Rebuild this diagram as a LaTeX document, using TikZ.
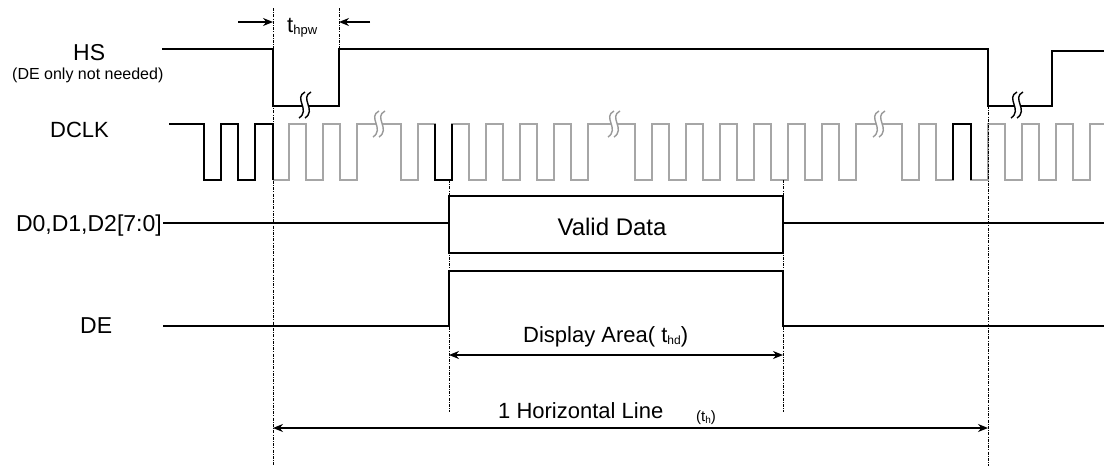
\documentclass[tikz,border=0pt]{standalone}
\usepackage{fontspec}
\setmainfont{Liberation Sans}
\usetikzlibrary{arrows.meta}
\newcommand{\sbs}[2][12]{\raisebox{-2pt}{\fontsize{#1}{#1}\selectfont #2}}

\begin{document}
\begin{tikzpicture}[x=1pt,y=-1pt,>={Stealth[length=10pt,width=8pt]},
  sig/.style={line width=1.6pt,black},
  clk/.style={line width=1.5pt,gray!70},
  guide/.style={line width=0.9pt,dash pattern=on 3pt off 1.2pt on 1pt off 1.2pt},
  dim/.style={line width=1.4pt},
  lbl/.style={font=\fontsize{23}{26}\selectfont,inner sep=0pt,anchor=base west},
  brk/.pic={
    \fill[white] (0,-13) .. controls (-12,-7) and (6,5) .. (-6,13) -- (0,13) .. controls (12,5) and (-6,-7) .. (6,-13) -- cycle;
    \draw[line width=1.4pt] (0,-13) .. controls (-12,-7) and (6,5) .. (-6,13);
    \draw[line width=1.4pt] (6,-13) .. controls (-6,-7) and (12,5) .. (0,13);
  }]
\useasboundingbox (0,0) rectangle (1104,466);

% signal names
  \node[lbl] (hs) at (73,60) {HS};
  \node[lbl,font=\fontsize{16}{18}\selectfont] (hsnote) at (12,79) {(DE only not needed)};
  \node[lbl,font=\fontsize{22}{26}\selectfont] (dclk) at (50,137) {DCLK};
  \node[lbl,anchor=base east] (dbus) at (162,231) {D0,D1,D2[7:0]};
  \node[lbl] (de) at (80,333) {DE};

% HS
  \draw[sig] (162,49) -- (273,49) -- (273,106) -- (339,106) -- (339,49)
    -- (988,49) -- (988,106) -- (1052,106) -- (1052,51) -- (1104,51);
  \pic at (305,105) {brk};
  \pic at (1017,105) {brk};

% DCLK
  \draw[clk] (273,180) -- (289,180) -- (289,124)
    \foreach \a in {306,340,401,435,469,503,537,571,635,669,703,737,771,805,839,902,936,971,1005,1039,1073}
      { -- (\a,124) -- (\a,180) -- ++(17,0) -- ++(0,-56) } -- (1104,124);
  \draw[sig] (169,124) -- (204,124) -- (204,180) -- (221,180) -- (221,124) -- (238,124)
    -- (238,180) -- (255,180) -- (255,124) -- (273,124) -- (273,180);
  \draw[sig] (435,124) -- (435,180) -- (452,180) -- (452,124);
  \draw[sig] (953,180) -- (953,124) -- (971,124) -- (971,180);
  \pic[gray!80] at (379,124) {brk};
  \pic[gray!80] at (614,124) {brk};
  \pic[gray!80] at (879,124) {brk};

% data bus
  \draw[sig] (163,223) -- (449,223);
  \draw[sig] (449,196) rectangle (783,253);
  \draw[sig] (783,223) -- (1104,223);
  \node[lbl,anchor=base,font=\fontsize{24}{26}\selectfont] (valid) at (612,235) {Valid Data};

% DE
  \draw[sig] (163,326) -- (449,326) -- (449,271) -- (783,271) -- (783,326) -- (1104,326);

% timing guides
  \draw[guide] (273,8) -- (273,466);
  \draw[guide] (339,8) -- (339,49);
  \draw[guide] (988,106) -- (988,466);
  \draw[guide] (449,180) -- (449,412);
  \draw[guide] (783,180) -- (783,412);

% dimensions
  \coordinate (pwL) at (273,22);
  \coordinate (pwR) at (339,22);
  \coordinate (pwLo) at (238,22);
  \coordinate (pwRo) at (370,22);
  \draw[dim,->] (pwLo) -- (pwL);
  \draw[dim,->] (pwRo) -- (pwR);
  \node[lbl,font=\fontsize{22}{24}\selectfont] (thpw) at (287,32) {t\sbs[13]{hpw}};

  \coordinate (daL) at (449,355);
  \coordinate (daR) at (783,355);
  \draw[dim,<->] (daL) -- (daR);
  \node[lbl,font=\fontsize{22}{26}\selectfont] (darea) at (523,342) {Display Area( t\sbs{hd})};

  \coordinate (hlL) at (273,428);
  \coordinate (hlR) at (988,428);
  \draw[dim,<->] (hlL) -- (hlR);
  \node[lbl,font=\fontsize{22}{26}\selectfont] (hline) at (498,418) {1 Horizontal Line};
  \node[lbl,font=\fontsize{15}{17}\selectfont] (th) at (696,421) {(t\sbs[10]{h})};

\end{tikzpicture}
\end{document}
